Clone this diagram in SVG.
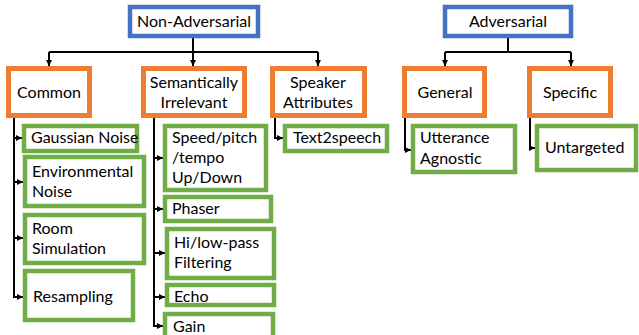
<svg xmlns="http://www.w3.org/2000/svg" width="639" height="335" viewBox="0 0 639 335">
<defs>
<marker id="ah" viewBox="0 0 6 6" refX="6" refY="3" markerWidth="6" markerHeight="6" markerUnits="userSpaceOnUse" orient="auto"><path d="M0,0 L6,3 L0,6 z" fill="#000"/></marker>
<style>
.root{fill:#fff;stroke:#4472C4;stroke-width:4.5}
.cat{fill:#fff;stroke:#ED7D31;stroke-width:5}
.leaf{fill:#fff;stroke:#70AD47;stroke-width:4.5}
text{font-family:Lato,"Liberation Sans",sans-serif;font-size:16px;fill:#000}
.c{text-anchor:middle}
.con path{fill:none;stroke:#000;stroke-width:2}
.con path.a{marker-end:url(#ah)}
</style>
</defs>
<rect width="639" height="335" fill="#fff"/>
<g class="con">
<path d="M193,37 V52 M49,52 H318"/>
<path class="a" d="M49,52 V66"/>
<path class="a" d="M193,52 V66"/>
<path class="a" d="M318,52 V66"/>
<path d="M508,37 V52 M445,52 H571"/>
<path class="a" d="M445,52 V66"/>
<path class="a" d="M571,52 V66"/>
<path d="M14,118 V297"/>
<path class="a" d="M14,138 H22"/>
<path class="a" d="M14,182 H23"/>
<path class="a" d="M14,238 H23"/>
<path class="a" d="M13,297 H23"/>
<path d="M154,118 V326"/>
<path class="a" d="M154,158 H163"/>
<path class="a" d="M154,209 H163"/>
<path class="a" d="M154,253 H165"/>
<path class="a" d="M154,297 H165"/>
<path class="a" d="M153,326 H163"/>
<path class="a" d="M275,118 V138 H283"/>
<path class="a" d="M405,118 V150 H411"/>
<path class="a" d="M530,118 V148 H535"/>
</g>
<g id="non-adversarial"><rect class="root" x="130" y="7" width="128" height="29"/><text class="c" x="194" y="27">Non-Adversarial</text></g>
<g id="adversarial"><rect class="root" x="445" y="7" width="126" height="29"/><text class="c" x="508" y="27">Adversarial</text></g>
<g id="common"><rect class="cat" x="8.5" y="68.5" width="81" height="47"/><text class="c" x="49" y="98">Common</text></g>
<g id="semantically-irrelevant"><rect class="cat" x="143.5" y="68.5" width="101" height="47"/><text class="c" x="194" y="88">Semantically</text><text class="c" x="194" y="108">Irrelevant</text></g>
<g id="speaker-attributes"><rect class="cat" x="272.5" y="68.5" width="92" height="47"/><text class="c" x="318" y="88">Speaker</text><text class="c" x="318" y="108">Attributes</text></g>
<g id="general"><rect class="cat" x="404.5" y="68.5" width="80" height="47"/><text class="c" x="445" y="98">General</text></g>
<g id="specific"><rect class="cat" x="529.5" y="68.5" width="81" height="47"/><text class="c" x="570" y="98">Specific</text></g>
<g id="gaussian-noise"><rect class="leaf" x="24" y="126" width="113" height="25"/><text x="31" y="143">Gaussian Noise</text></g>
<g id="environmental-noise"><rect class="leaf" x="25" y="157" width="119" height="49"/><text x="32" y="177">Environmental</text><text x="32" y="197">Noise</text></g>
<g id="room-simulation"><rect class="leaf" x="25" y="215" width="119" height="48"/><text x="32" y="234">Room</text><text x="32" y="254">Simulation</text></g>
<g id="resampling"><rect class="leaf" x="25" y="271" width="108" height="49"/><text x="33" y="302">Resampling</text></g>
<g id="speed-pitch"><rect class="leaf" x="165" y="126" width="101" height="64"/><text x="172" y="143">Speed/pitch</text><text x="172" y="163">/tempo</text><text x="172" y="183">Up/Down</text></g>
<g id="phaser"><rect class="leaf" x="165" y="197" width="106" height="24"/><text x="172" y="214">Phaser</text></g>
<g id="filtering"><rect class="leaf" x="167" y="229" width="107" height="49"/><text x="174" y="248">Hi/low-pass</text><text x="174" y="268">Filtering</text></g>
<g id="echo"><rect class="leaf" x="167" y="285" width="107" height="20"/><text x="174" y="302">Echo</text></g>
<g id="gain"><rect class="leaf" x="165" y="314" width="108" height="30"/><text x="173" y="332">Gain</text></g>
<g id="text2speech"><rect class="leaf" x="285" y="126" width="102" height="25"/><text x="293" y="143">Text2speech</text></g>
<g id="utterance-agnostic"><rect class="leaf" x="413" y="126" width="102" height="46"/><text x="420" y="143">Utterance</text><text x="420" y="164">Agnostic</text></g>
<g id="untargeted"><rect class="leaf" x="537" y="126" width="99" height="44"/><text x="545" y="153">Untargeted</text></g>
</svg>
